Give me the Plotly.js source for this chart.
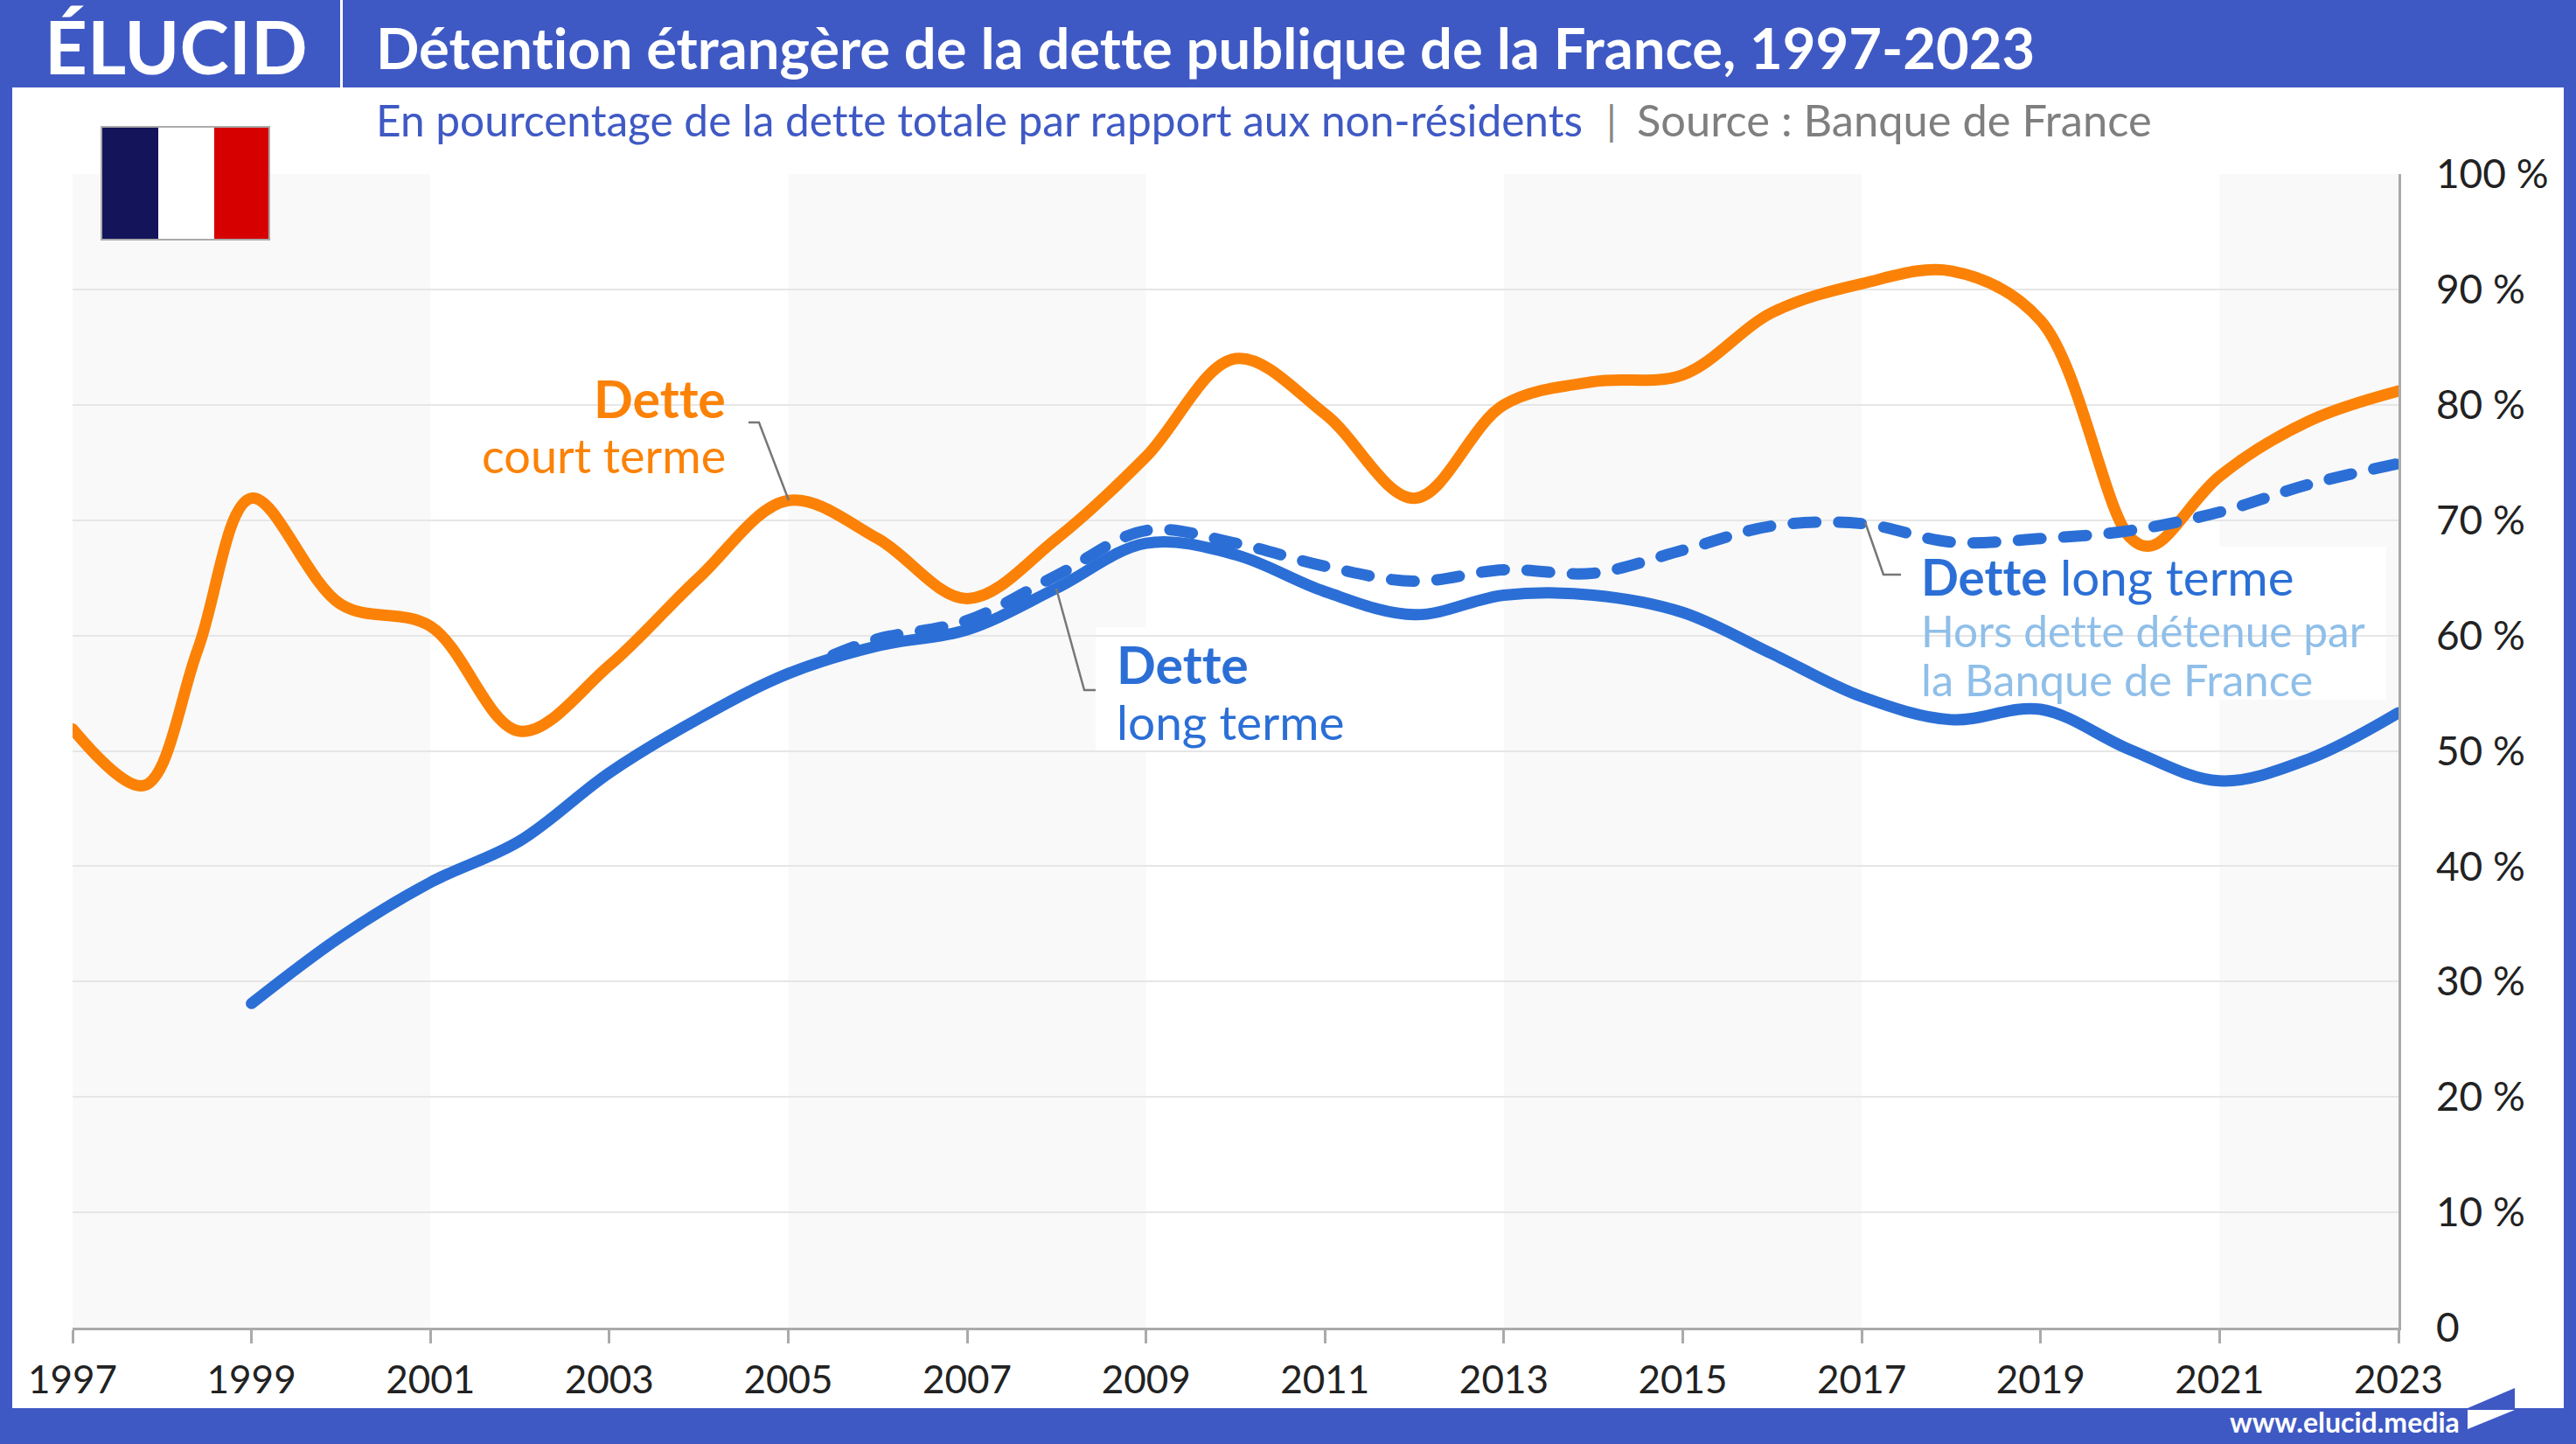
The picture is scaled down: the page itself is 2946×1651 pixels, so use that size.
<!DOCTYPE html>
<html lang="fr"><head><meta charset="utf-8">
<script src="https://cdn.plot.ly/plotly-3.0.0.min.js"></script>
<style>html,body{margin:0;padding:0;background:#3f59c4}#c{width:2946px;height:1651px}.js-line{stroke-linecap:round}text{font-variant-ligatures:none;font-feature-settings:"liga" 0}</style>
</head><body><div id="c"></div>
<script>
const yearsOrange=[1997,1997.8,1998.4,1999,2000,2001,2002,2003,2004,2005,2006,2007,2008,2009,2010,2011,2012,2013,2014,2015,2016,2017,2018,2019,2020,2020.25,2021,2022,2023];
const courtTerme=[51.9,47.0,58.8,71.9,62.7,60.8,51.7,57.4,65,71.7,68.4,63.2,68.4,75.5,84.0,79.2,71.9,80,82,82.6,88,90.5,91.6,87.3,68.5,67.8,73.8,78.6,81.2];
const yearsLong=[1999,2000,2001,2002,2003,2004,2005,2006,2007,2008,2009,2010,2011,2012,2013,2014,2015,2016,2017,2018,2019,2020,2021,2022,2023];
const longTerme=[28.1,33.9,38.6,42.2,48.1,52.8,56.7,59.1,60.5,64.1,68,67,63.8,61.8,63.5,63.5,62,58.4,54.7,52.7,53.6,50.1,47.4,49.3,53.3];
const yearsHorsBdF=[2005.5,2006,2007,2008,2009,2010,2011,2012,2013,2014,2015,2016,2017,2018,2019,2020,2021,2022,2023];
const longHorsBdF=[58.3,59.7,61.3,65.2,69.1,68,66,64.7,65.7,65.4,67.4,69.5,69.7,68.1,68.4,69.1,70.7,73.1,74.9];
const xTicks=[1997,1999,2001,2003,2005,2007,2009,2011,2013,2015,2017,2019,2021,2023];
const yTicks=[0,10,20,30,40,50,60,70,80,90,100];
const yLabels=['0','10 %','20 %','30 %','40 %','50 %','60 %','70 %','80 %','90 %','100 %'];
const bandStarts=[1997,2005,2013,2021];
const bandEnds=[2001,2009,2017,2023];

const W=2946,H=1651,L=83,R=2743,T=199,B=1518;
const fx=p=>(p-L)/(R-L), fy=p=>(B-p)/(B-T);
const BLUE='#3f59c4',ORANGE='#fb8207',LINE='#2b6fd6',LIGHT='#8fbfe9',FONT='Lato, sans-serif';
const rect=(x0,y0,x1,y1,fill,layer,line)=>({type:'rect',xref:'paper',yref:'paper',x0:fx(x0),x1:fx(x1),y0:fy(y0),y1:fy(y1),fillcolor:fill,layer:layer,line:line||{width:0}});
const path=(pts,fill,color,width)=>({type:'path',xref:'paper',yref:'paper',layer:'above',fillcolor:fill,line:{color:color,width:width},
  path:pts.map((p,i)=>(i?'L':'M')+fx(p[0])+','+fy(p[1])).join(' ')+(fill!=='rgba(0,0,0,0)'?' Z':'')});
const none='rgba(0,0,0,0)';
const shapes=[
  rect(14,100,2932,1610,'#ffffff','below'),
  ...bandStarts.map((s,i)=>({type:'rect',xref:'x',yref:'paper',x0:s,x1:bandEnds[i],y0:0,y1:1,fillcolor:'#f9f9f9',line:{width:0},layer:'below'})),
  rect(522,415,856,570,'#ffffff','between'),
  rect(1253,717,1566,860,'#ffffff','between'),
  rect(2173,625,2729,800,'#ffffff','between'),
  path([[856,483],[868,483],[902,572]],none,'#777777',2.5),
  path([[1208,673],[1240,789],[1253,789]],none,'#777777',2.5),
  path([[2133,597],[2154,657],[2174,657]],none,'#777777',2.5),
  rect(389,0,392,100,'#ffffff','above'),
  rect(115,144,309,275,'#aaaaaa','above'),
  rect(117,146,181,273,'#14145a','above'),
  rect(181,146,245,273,'#ffffff','above'),
  rect(245,146,307,273,'#d60000','above'),
  path([[2822,1610],[2876,1587],[2876,1610]],BLUE,BLUE,0),
  path([[2822,1612],[2876,1612],[2822,1634]],'#ffffff','#ffffff',0),
];
const txt=(x,y,text,size,color,anchor)=>({xref:'paper',yref:'paper',x:fx(x),y:fy(y),text:text,showarrow:false,xanchor:anchor||'left',yanchor:'middle',font:{family:FONT,size:size,color:color},borderpad:0});
const annotations=[
  txt(50,52,'<b>ÉLUCID</b>',85,'#ffffff'),
  txt(429,54,'<b>Détention étrangère de la dette publique de la France, 1997-2023</b>',65.1,'#ffffff'),
  txt(429,137,'En pourcentage de la dette totale par rapport aux non-résidents',49.6,BLUE),
  txt(1836,137,'|',47,'#888888'),
  txt(1871,137,'Source : Banque de France',50.6,'#7f7f7f'),
  txt(831,455,'<b>Dette</b>',59,ORANGE,'right'),
  txt(831,520,'court terme',54,ORANGE,'right'),
  txt(1276,759,'<b>Dette</b>',59,LINE),
  txt(1276,825,'long terme',55,LINE),
  txt(2196,659,'<b>Dette</b> long terme',56.5,LINE),
  txt(2196,721,'Hors dette détenue par',49.6,LIGHT),
  txt(2196,776,'la Banque de France',50.6,LIGHT),
  txt(2549,1625,'<b>www.elucid.media</b>',32,'#ffffff'),
];
const traces=[
  {x:yearsOrange,y:courtTerme,name:'Dette court terme',mode:'lines',line:{color:ORANGE,width:13,shape:'spline',smoothing:1}},
  {x:yearsHorsBdF,y:longHorsBdF,name:'Dette long terme hors BdF',mode:'lines',line:{color:LINE,width:13,shape:'spline',smoothing:1,dash:'26px,26px'}},
  {x:yearsLong,y:longTerme,name:'Dette long terme',mode:'lines',line:{color:LINE,width:13,shape:'spline',smoothing:1}},
];
const layout={
  width:W,height:H,showlegend:false,paper_bgcolor:BLUE,plot_bgcolor:'#ffffff',
  margin:{l:L,r:W-R,t:T,b:H-B,pad:0},
  font:{family:FONT,color:'#222222'},
  xaxis:{range:[1997,2023],tickmode:'array',tickvals:xTicks,ticktext:xTicks.map(String),ticks:'outside',ticklen:15,tickwidth:2.5,tickcolor:'#aaaaaa',ticklabelstandoff:4,
    showline:true,linecolor:'#aaaaaa',linewidth:2.5,showgrid:false,zeroline:false,tickfont:{family:FONT,size:44,color:'#222222'},tickangle:0},
  yaxis:{range:[0,100],side:'right',tickmode:'array',tickvals:yTicks,ticktext:yLabels,ticks:'outside',ticklen:31,tickcolor:'rgba(0,0,0,0)',
    showline:true,linecolor:'#aaaaaa',linewidth:2.5,showgrid:true,gridcolor:'#e6e6e6',gridwidth:2,zeroline:false,tickfont:{family:FONT,size:46,color:'#222222'}},
  shapes:shapes,annotations:annotations
};
Plotly.newPlot('c',traces,layout,{displayModeBar:false,responsive:false});
</script></body></html>
